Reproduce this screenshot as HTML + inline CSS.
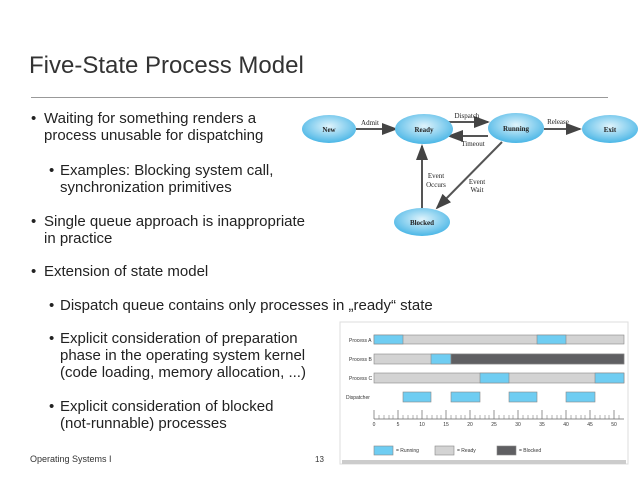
<!DOCTYPE html>
<html><head><meta charset="utf-8"><style>
body{margin:0;width:638px;height:479px;background:#fff;position:relative;overflow:hidden;font-family:"Liberation Sans",sans-serif;color:#222}
.t{position:absolute;font-size:15px;line-height:17px;white-space:nowrap}
.b{position:absolute;font-size:15px;line-height:17px}
</style></head><body>
<div style="position:absolute;left:29px;top:52px;font-size:24px;line-height:28px;color:#333">Five-State Process Model</div>
<div style="position:absolute;left:31px;top:97px;width:577px;height:1px;background:#999"></div>

<div class="b" style="left:31px;top:110px">•</div>
<div class="t" style="left:44px;top:110px">Waiting for something renders a<br>process unusable for dispatching</div>
<div class="b" style="left:49px;top:162px">•</div>
<div class="t" style="left:60px;top:162px">Examples: Blocking system call,<br>synchronization primitives</div>
<div class="b" style="left:31px;top:213px">•</div>
<div class="t" style="left:44px;top:213px">Single queue approach is inappropriate<br>in practice</div>
<div class="b" style="left:31px;top:263px">•</div>
<div class="t" style="left:44px;top:263px">Extension of state model</div>
<div class="b" style="left:49px;top:297px">•</div>
<div class="t" style="left:60px;top:297px">Dispatch queue contains only processes in „ready“ state</div>
<div class="b" style="left:49px;top:330px">•</div>
<div class="t" style="left:60px;top:330px">Explicit consideration of preparation<br>phase in the operating system kernel<br>(code loading, memory allocation, ...)</div>
<div class="b" style="left:49px;top:398px">•</div>
<div class="t" style="left:60px;top:398px">Explicit consideration of blocked<br>(not-runnable) processes</div>
<div style="position:absolute;left:30px;top:454px;font-size:9px;color:#333">Operating Systems I</div>
<div style="position:absolute;left:315px;top:455px;font-size:8px;color:#333">13</div>

<svg style="position:absolute;left:0;top:0" width="638" height="479">
<defs>
<radialGradient id="g" cx="50%" cy="40%" r="60%"><stop offset="0" stop-color="#e0f4fc"/><stop offset="1" stop-color="#4ab6e6"/></radialGradient>
<marker id="a" markerWidth="8" markerHeight="6" refX="7" refY="3" orient="auto"><path d="M0,0L8,3L0,6z" fill="#444"/></marker>
</defs>
<g stroke="#555" stroke-width="2" fill="none" marker-end="url(#a)">
<line x1="356" y1="129" x2="396" y2="129"/>
<line x1="447" y1="122" x2="488" y2="122"/>
<line x1="488" y1="136" x2="449" y2="136"/>
<line x1="544" y1="129" x2="580" y2="129"/>
<line x1="422" y1="208" x2="422" y2="146"/>
<line x1="502" y1="142" x2="437" y2="208"/>
</g>
<g fill="url(#g)">
<ellipse cx="329" cy="129" rx="27" ry="14"/>
<ellipse cx="424" cy="129" rx="29" ry="15"/>
<ellipse cx="516" cy="128" rx="28" ry="15"/>
<ellipse cx="610" cy="129" rx="28" ry="14"/>
<ellipse cx="422" cy="222" rx="28" ry="14"/>
</g>
<g font-family="Liberation Serif,serif" font-size="7" font-weight="bold" fill="#222" text-anchor="middle">
<text x="329" y="132">New</text><text x="424" y="132">Ready</text><text x="516" y="131">Running</text><text x="610" y="132">Exit</text><text x="422" y="225">Blocked</text>
<g font-weight="normal"><text x="370" y="125">Admit</text><text x="467" y="118">Dispatch</text><text x="473" y="146">Timeout</text><text x="558" y="124">Release</text>
<text x="436" y="178">Event</text><text x="436" y="187">Occurs</text><text x="477" y="184">Event</text><text x="477" y="192">Wait</text></g>
</g>

<rect x="340" y="322" width="288" height="142" fill="#fff" stroke="#ddd"/>
<rect x="342" y="460" width="284" height="4" fill="#ccc"/>
<g stroke="#888" stroke-width="0.6">
<rect x="374" y="335" width="250" height="9" fill="#d3d3d3"/>
<rect x="374" y="335" width="29" height="9" fill="#6fcdf2"/>
<rect x="537" y="335" width="29" height="9" fill="#6fcdf2"/>
<rect x="374" y="354" width="250" height="10" fill="#d3d3d3"/>
<rect x="431" y="354" width="20" height="10" fill="#6fcdf2"/>
<rect x="451" y="354" width="173" height="10" fill="#5f5f62"/>
<rect x="374" y="373" width="250" height="10" fill="#d3d3d3"/>
<rect x="480" y="373" width="29" height="10" fill="#6fcdf2"/>
<rect x="595" y="373" width="29" height="10" fill="#6fcdf2"/>
<rect x="403" y="392" width="28" height="10" fill="#6fcdf2"/>
<rect x="451" y="392" width="29" height="10" fill="#6fcdf2"/>
<rect x="509" y="392" width="28" height="10" fill="#6fcdf2"/>
<rect x="566" y="392" width="29" height="10" fill="#6fcdf2"/>
<rect x="374" y="446" width="19" height="9" fill="#6fcdf2"/>
<rect x="435" y="446" width="19" height="9" fill="#d3d3d3"/>
<rect x="497" y="446" width="19" height="9" fill="#5f5f62"/>
</g>
<path d="M374 419H624 M374 410V419 M398 410V419 M422 410V419 M446 410V419 M470 410V419 M494 410V419 M518 410V419 M542 410V419 M566 410V419 M590 410V419 M614 410V419" stroke="#666" stroke-width="0.7"/>
<path d="M379 415V419M384 415V419M389 415V419M393 415V419M403 415V419M408 415V419M413 415V419M417 415V419M427 415V419M432 415V419M437 415V419M441 415V419M451 415V419M456 415V419M461 415V419M465 415V419M475 415V419M480 415V419M485 415V419M489 415V419M499 415V419M504 415V419M509 415V419M513 415V419M523 415V419M528 415V419M533 415V419M537 415V419M547 415V419M552 415V419M557 415V419M561 415V419M571 415V419M576 415V419M581 415V419M585 415V419M595 415V419M600 415V419M605 415V419M609 415V419M619 415V419" stroke="#666" stroke-width="0.5"/>
<g font-size="5" fill="#333" font-family="Liberation Sans,sans-serif">
<text x="349" y="342">Process A</text><text x="349" y="361">Process B</text><text x="349" y="380">Process C</text><text x="346" y="399">Dispatcher</text>
<g text-anchor="middle"><text x="374" y="426">0</text><text x="398" y="426">5</text><text x="422" y="426">10</text><text x="446" y="426">15</text><text x="470" y="426">20</text><text x="494" y="426">25</text><text x="518" y="426">30</text><text x="542" y="426">35</text><text x="566" y="426">40</text><text x="590" y="426">45</text><text x="614" y="426">50</text></g>
<text x="396" y="452">= Running</text><text x="457" y="452">= Ready</text><text x="519" y="452">= Blocked</text>
</g>
</svg>
</body></html>
